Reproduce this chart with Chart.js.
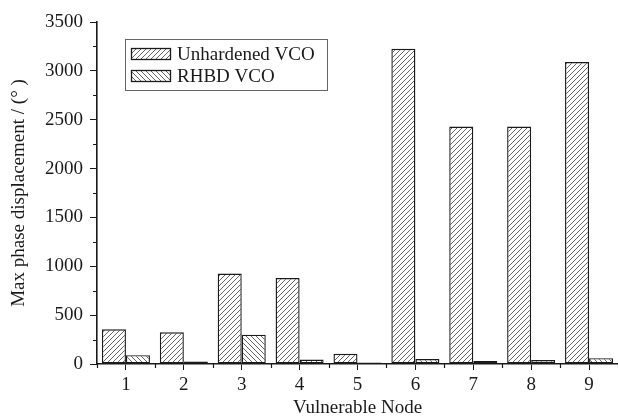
<!DOCTYPE html>
<html lang="en">
<head>
    <meta charset="UTF-8">
    <title>Max phase displacement per vulnerable node</title>
    <script src="https://cdn.jsdelivr.net/npm/chart.js"></script>
    <style>
        html, body {
            margin: 0;
            padding: 0;
            background: #fff;
        }
        #chart-box {
            width: 618px;
            height: 419px;
        }
    </style>
</head>
<body>
    <div id="chart-box">
        <canvas id="phaseChart" width="618" height="419"></canvas>
    </div>

    <script>
        // data
        const nodes = ["1", "2", "3", "4", "5", "6", "7", "8", "9"];
        const unhardenedVco = [355, 325, 925, 880, 105, 3225, 2430, 2430, 3090];
        const rhbdVco = [90, 25, 300, 45, 15, 50, 30, 40, 60];
        const seriesNames = ["Unhardened VCO", "RHBD VCO"];

        const FONT = "'Liberation Serif', 'Times New Roman', serif";
        const INK = "#1a1a1a";

        // diagonal hatch fill, dir "/" or "\"
        function hatch(dir) {
            const s = 5;
            const c = document.createElement("canvas");
            c.width = s;
            c.height = s;
            const g = c.getContext("2d");
            g.fillStyle = "#fff";
            g.fillRect(0, 0, s, s);
            g.strokeStyle = "#555";
            g.lineWidth = 0.9;
            g.beginPath();
            if (dir === "/") {
                g.moveTo(0, s); g.lineTo(s, 0);
                g.moveTo(-1, 1); g.lineTo(1, -1);
                g.moveTo(s - 1, s + 1); g.lineTo(s + 1, s - 1);
            } else {
                g.moveTo(0, 0); g.lineTo(s, s);
                g.moveTo(-1, s - 1); g.lineTo(1, s + 1);
                g.moveTo(s - 1, -1); g.lineTo(s + 1, 1);
            }
            g.stroke();
            return g.createPattern(c, "repeat");
        }

        const fills = [hatch("/"), hatch("\\")];

        // minor ticks + boxed legend inside the plot
        const extras = {
            id: "extras",
            afterDraw(chart) {
                const ctx = chart.ctx;
                const area = chart.chartArea;
                const y = chart.scales.y;
                const x = chart.scales.x;
                ctx.save();
                ctx.strokeStyle = INK;
                ctx.lineWidth = 1.2;
                ctx.beginPath();
                for (let v = 250; v < 3500; v += 500) {
                    const py = Math.round(y.getPixelForValue(v)) + 0.5;
                    ctx.moveTo(area.left - 4, py);
                    ctx.lineTo(area.left, py);
                }
                for (let i = 0; i <= nodes.length; i++) {
                    const px = Math.round(x.getPixelForValue(i - 0.5)) + 0.5;
                    ctx.moveTo(px, area.bottom);
                    ctx.lineTo(px, area.bottom + 4);
                }
                ctx.stroke();

                // legend
                const lx = area.left + 28;
                const ly = area.top + 17;
                ctx.strokeStyle = "#666";
                ctx.lineWidth = 1;
                ctx.strokeRect(lx + 0.5, ly + 0.5, 202, 51);
                ctx.font = "19px " + FONT;
                ctx.textBaseline = "middle";
                ctx.fillStyle = INK;
                seriesNames.forEach((name, i) => {
                    const sy = ly + 9 + i * 22;
                    ctx.fillStyle = fills[i];
                    ctx.fillRect(lx + 6, sy, 40, 12);
                    ctx.strokeStyle = INK;
                    ctx.lineWidth = 1.3;
                    ctx.strokeRect(lx + 6.5, sy + 0.5, 39, 11);
                    ctx.fillStyle = INK;
                    ctx.fillText(name, lx + 52, sy + 7);
                });
                ctx.restore();
            }
        };

        new Chart(document.getElementById("phaseChart"), {
            type: "bar",
            data: {
                labels: nodes,
                datasets: [
                    {
                        label: seriesNames[0],
                        data: unhardenedVco,
                        backgroundColor: fills[0],
                        borderColor: INK,
                        borderWidth: 1.4,
                        borderSkipped: false
                    },
                    {
                        label: seriesNames[1],
                        data: rhbdVco,
                        backgroundColor: fills[1],
                        borderColor: INK,
                        borderWidth: 1.4,
                        borderSkipped: false
                    }
                ]
            },
            options: {
                responsive: false,
                animation: false,
                devicePixelRatio: 1,
                layout: { padding: { top: 22, right: 0, left: 0, bottom: 0 } },
                datasets: {
                    bar: { categoryPercentage: 0.83, barPercentage: 1.0 }
                },
                plugins: {
                    legend: { display: false },
                    tooltip: { enabled: false }
                },
                scales: {
                    x: {
                        offset: true,
                        border: { color: INK, width: 1.6 },
                        grid: { drawOnChartArea: false, tickLength: 6, color: INK, offset: false },
                        ticks: { color: INK, font: { family: FONT, size: 19 }, padding: 4 },
                        title: {
                            display: true,
                            text: "Vulnerable Node",
                            color: INK,
                            font: { family: FONT, size: 19 },
                            padding: { top: 0, bottom: 0 }
                        },
                        afterFit(scale) { scale.height = 55; }
                    },
                    y: {
                        min: 0,
                        max: 3500,
                        border: { color: INK, width: 1.6 },
                        grid: { drawOnChartArea: false, tickLength: 7, color: INK },
                        ticks: {
                            stepSize: 500,
                            color: INK,
                            font: { family: FONT, size: 19 },
                            padding: 7,
                            callback: v => String(v)
                        },
                        title: {
                            display: true,
                            text: "Max phase displacement / (° )",
                            color: INK,
                            font: { family: FONT, size: 19 },
                            padding: { top: 8, bottom: 2 }
                        },
                        afterFit(scale) { scale.width = 97; }
                    }
                }
            },
            plugins: [extras]
        });
    </script>
</body>
</html>
